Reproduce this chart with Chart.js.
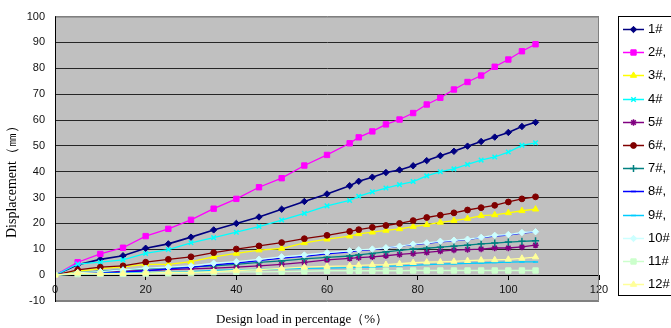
<!DOCTYPE html>
<html>
<head>
<meta charset="utf-8">
<script src="https://cdn.jsdelivr.net/npm/chart.js@4/dist/chart.umd.min.js"></script>
<style>
  html, body { margin: 0; padding: 0; background: #fff; overflow: hidden; }
  #wrap { position: relative; width: 671px; height: 328px; }
</style>
</head>
<body>
<div id="wrap"><canvas id="c" width="671" height="328"></canvas></div>
<script>
// Load steps (% of design load) at which displacement was recorded
const loadPct = [0, 5, 10, 15, 20, 25, 30, 35, 40, 45, 50, 55, 60, 65, 67, 70, 73, 76, 79, 82, 85, 88, 91, 94, 97, 100, 103, 106];

// Displacement (mm) of each measuring point
const pt1  = [0, 4.0, 6.1, 7.5, 10.4, 12.1, 14.7, 17.5, 20.0, 22.5, 25.5, 28.5, 31.4, 34.6, 36.3, 37.9, 39.7, 40.7, 42.3, 44.3, 46.2, 47.9, 49.9, 51.7, 53.4, 55.2, 57.5, 59.1];
const pt2  = [0, 5.0, 8.2, 10.6, 15.1, 17.9, 21.4, 25.7, 29.5, 34.0, 37.5, 42.4, 46.5, 51.0, 53.3, 55.6, 58.3, 60.2, 62.7, 66.0, 68.6, 71.8, 74.7, 77.2, 80.6, 83.4, 86.6, 89.3];
const pt3  = [0, 1.5, 2.5, 3.2, 4.2, 4.2, 5.2, 7.1, 8.4, 9.7, 10.3, 12.5, 13.9, 15.1, 16.0, 16.6, 17.3, 17.9, 18.8, 19.5, 20.4, 21.1, 21.9, 23.0, 23.3, 24.1, 24.9, 25.5];
const pt4  = [0, 4.3, 5.0, 5.9, 8.4, 9.9, 12.5, 14.5, 16.6, 18.8, 21.3, 23.9, 26.8, 28.9, 30.5, 32.2, 33.7, 35.0, 36.2, 38.4, 40.0, 41.1, 42.8, 44.5, 45.7, 47.6, 50.2, 51.2];
const pt5  = [0, 0.8, 1.2, 1.5, 1.8, 2.1, 2.4, 2.7, 3.1, 3.6, 4.2, 4.9, 5.9, 6.5, 6.8, 7.1, 7.5, 8.0, 8.4, 8.8, 9.3, 9.7, 9.9, 10.1, 10.5, 10.5, 10.9, 11.6];
const pt6  = [0, 2.0, 3.1, 3.6, 5.0, 6.1, 7.1, 8.7, 10.1, 11.3, 12.6, 14.1, 15.4, 16.9, 17.6, 18.5, 19.2, 20.0, 21.1, 22.3, 23.2, 24.1, 25.2, 26.1, 27.0, 28.3, 29.5, 30.3];
const pt7  = [0, 1.0, 1.5, 2.0, 2.5, 2.9, 3.2, 3.6, 4.2, 4.9, 5.5, 6.3, 6.9, 7.4, 7.8, 8.4, 9.0, 9.6, 10.1, 10.4, 10.8, 11.2, 11.6, 12.1, 12.4, 12.8, 13.1, 13.3];
const pt8  = [0, 0.8, 0.9, 1.2, 1.7, 2.4, 3.0, 4.0, 4.7, 5.6, 6.6, 7.3, 8.2, 9.0, 9.5, 9.9, 10.5, 11.2, 11.8, 12.3, 12.9, 13.3, 13.8, 14.5, 15.1, 15.5, 16.3, 16.7];
const pt9  = [0, 0.5, 0.7, 0.8, 1.0, 1.2, 1.4, 1.8, 2.0, 2.2, 2.4, 2.6, 2.7, 2.9, 3.0, 3.1, 3.4, 3.6, 3.8, 4.1, 4.3, 4.4, 4.6, 4.7, 4.9, 5.0, 5.1, 5.1];
const pt10 = [0, 1.0, 1.4, 2.0, 2.7, 3.1, 3.6, 4.6, 5.2, 6.1, 7.1, 7.8, 8.7, 9.4, 9.8, 10.1, 10.6, 11.2, 12.0, 12.5, 13.1, 13.5, 13.9, 14.6, 15.4, 15.7, 16.5, 16.8];
const pt11 = [0, 0.4, 0.5, 0.5, 0.6, 0.7, 0.8, 1.1, 1.3, 1.3, 1.4, 1.5, 1.7, 1.7, 1.7, 1.7, 1.7, 1.7, 1.8, 1.8, 1.8, 1.8, 1.8, 1.8, 1.8, 1.8, 1.8, 1.8];
const pt12 = [0, 0.8, 0.6, 0.6, 0.8, 1.1, 1.1, 1.4, 1.8, 2.1, 2.6, 3.1, 3.4, 3.6, 3.8, 4.0, 4.1, 4.4, 4.8, 5.0, 5.1, 5.3, 5.6, 5.8, 5.9, 6.1, 6.5, 7.0];

const seriesValues = [pt1, pt2, pt3, pt4, pt5, pt6, pt7, pt8, pt9, pt10, pt11, pt12];
const seriesNames  = ['1#', '2#,', '3#,', '4#', '5#', '6#,', '7#,', '8#,', '9#,', '10#', '11#', '12#'];

// Axis ranges and tick spacing
const xTicks = { min: 0, max: 120, step: 20 };
const yTicks = { min: -10, max: 100, step: 10 };

const xTitle = 'Design load in percentage（%）';
const yTitle = 'Displacement（㎜）';

// Line colours and marker shapes per series
const seriesColors  = ['#000080', '#FF00FF', '#FFFF00', '#00FFFF', '#800080', '#800000', '#008080', '#0000FF', '#00CCFF', '#CCFFFF', '#CCFFCC', '#FFFF99'];
const markerShapes  = ['rectRot', 'rect', 'triangle', 'crossRot', 'star', 'circle', 'cross', 'line', 'line', 'rectRot', 'rect', 'triangle'];
const markerRadius  = [3.2, 3.8, 3.6, 3.2, 3.2, 2.9, 3.6, 2.6, 2.6, 3.2, 3.8, 3.6];

const datasets = seriesValues.map((vals, i) => ({
  label: seriesNames[i],
  data: loadPct.map((x, k) => ({ x: x, y: vals[k] })),
  borderColor: seriesColors[i],
  backgroundColor: seriesColors[i],
  pointBackgroundColor: seriesColors[i],
  pointBorderColor: seriesColors[i],
  pointStyle: markerShapes[i],
  pointRadius: markerRadius[i],
  pointBorderWidth: (markerShapes[i] === 'line' || markerShapes[i].startsWith('cross') || markerShapes[i] === 'star') ? 1.5 : 1,
  borderWidth: i === 0 ? 1.6 : 1.3,
  tension: 0,
  fill: false,
  order: seriesValues.length - i   // later series are painted over earlier ones
}));

// Grey plot background and thin grey frame
const plotFrame = {
  id: 'plotFrame',
  beforeDraw(chart) {
    const a = chart.chartArea, ctx = chart.ctx;
    ctx.save();
    ctx.fillStyle = '#c0c0c0';
    ctx.fillRect(a.left, a.top, a.right - a.left, a.bottom - a.top);
    ctx.restore();
  },
  afterDraw(chart) {
    const a = chart.chartArea, ctx = chart.ctx;
    ctx.save();
    ctx.strokeStyle = '#808080';
    ctx.lineWidth = 1;
    ctx.beginPath();
    ctx.moveTo(a.left, a.top + 0.5);
    ctx.lineTo(a.right - 0.5, a.top + 0.5);
    ctx.lineTo(a.right - 0.5, a.bottom - 0.5);
    ctx.lineTo(a.left, a.bottom - 0.5);
    ctx.stroke();
    ctx.strokeStyle = '#000';
    ctx.beginPath();
    ctx.moveTo(a.left + 0.5, a.top);
    ctx.lineTo(a.left + 0.5, a.bottom);
    ctx.stroke();
    ctx.restore();
  }
};

// Axis titles in a serif face
const axisTitles = {
  id: 'axisTitles',
  afterDraw(chart) {
    const ctx = chart.ctx;
    ctx.save();
    ctx.fillStyle = '#000';
    ctx.textBaseline = 'middle';
    ctx.textAlign = 'left';
    ctx.font = '13px "Liberation Serif", "Times New Roman", serif';
    ctx.fillText(xTitle, 216, 320);
    ctx.font = '14px "Liberation Serif", "Times New Roman", serif';
    ctx.translate(12, 238);
    ctx.rotate(-Math.PI / 2);
    ctx.fillText(yTitle, 0, 0);
    ctx.restore();
  }
};

// Boxed legend on the right: a line segment with the series marker, then the name
const sideLegend = {
  id: 'sideLegend',
  afterDraw(chart) {
    const ctx = chart.ctx;
    ctx.save();
    ctx.fillStyle = '#fff';
    ctx.fillRect(618, 16, 60, 279);
    ctx.strokeStyle = '#000';
    ctx.lineWidth = 1;
    ctx.strokeRect(618.5, 16.5, 60, 279);
    ctx.font = '13px "Liberation Sans", Arial, sans-serif';
    ctx.textBaseline = 'middle';
    ctx.textAlign = 'left';
    chart.data.datasets.forEach((ds, i) => {
      const y = Math.round(29 + i * 23.2) + 0.5;
      ctx.strokeStyle = ds.borderColor;
      ctx.lineWidth = 1.5;
      ctx.beginPath();
      ctx.moveTo(623, y);
      ctx.lineTo(644, y);
      ctx.stroke();
      ctx.fillStyle = ds.backgroundColor;
      ctx.strokeStyle = ds.borderColor;
      ctx.lineWidth = ds.pointBorderWidth;
      Chart.helpers.drawPoint(ctx, {
        pointStyle: ds.pointStyle,
        radius: ds.pointRadius,
        borderWidth: ds.pointBorderWidth,
        rotation: 0
      }, 633.5, y);
      ctx.fillStyle = '#000';
      ctx.fillText(ds.label, 648, y);
    });
    ctx.restore();
  }
};

new Chart(document.getElementById('c'), {
  type: 'line',
  data: { datasets: datasets },
  options: {
    responsive: false,
    animation: false,
    devicePixelRatio: 1,
    layout: { padding: { left: 0, top: 12, right: 72, bottom: 27 } },
    plugins: {
      legend: { display: false },
      tooltip: { enabled: false },
      title: { display: false }
    },
    scales: {
      x: {
        type: 'linear',
        position: { y: 0 },
        min: xTicks.min,
        max: xTicks.max,
        afterFit(s) { s.height = 0; },
        ticks: {
          stepSize: xTicks.step,
          color: '#111',
          padding: 4,
          maxRotation: 0,
          font: { family: '"Liberation Sans", Arial, sans-serif', size: 11 }
        },
        grid: { drawOnChartArea: false, drawTicks: true, tickLength: 4, color: '#000' },
        border: { display: true, color: '#000', width: 1 }
      },
      y: {
        type: 'linear',
        min: yTicks.min,
        max: yTicks.max,
        afterFit(s) { s.width = 55; },
        ticks: {
          stepSize: yTicks.step,
          color: '#111',
          padding: 10,
          font: { family: '"Liberation Sans", Arial, sans-serif', size: 11 }
        },
        grid: {
          drawTicks: false,
          lineWidth: 1,
          color: (c) => {
            const v = c.tick ? c.tick.value : null;
            if (v === yTicks.max || v === yTicks.min) return '#808080';
            return '#262626';
          }
        },
        border: { display: true, color: '#000', width: 1 }
      }
    }
  },
  plugins: [plotFrame, axisTitles, sideLegend]
});
</script>
</body>
</html>
